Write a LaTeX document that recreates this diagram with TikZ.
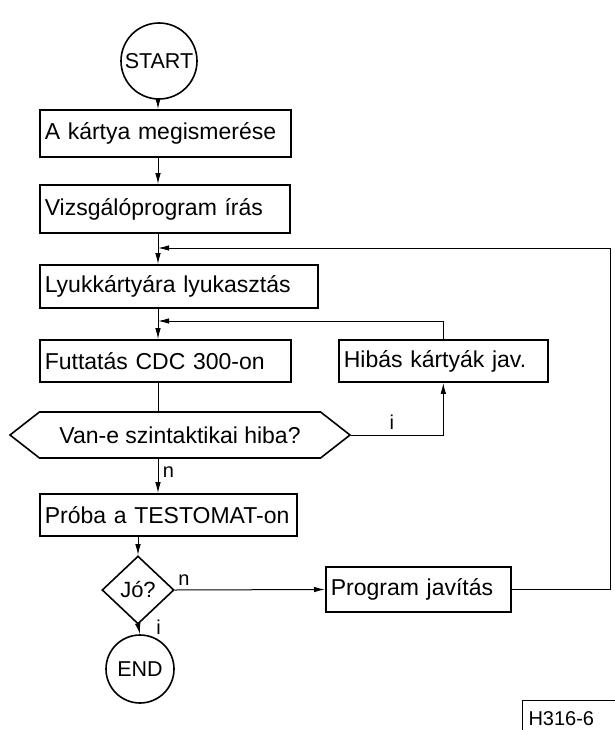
\documentclass[tikz,border=0pt]{standalone}
\usepackage{fontspec}
\setmainfont{Liberation Sans}
\usetikzlibrary{positioning, shapes.geometric, shapes.symbols, arrows.meta}

\tikzset{
	stepbox/.style={draw, line width=1.6pt, rectangle, anchor=west, inner xsep=5pt, inner ysep=0pt, align=left, font=\fontsize{23}{26}\selectfont},
	terminal/.style={draw, line width=1.6pt, circle, inner sep=0pt, font=\fontsize{21.5}{24}\selectfont},
	decision/.style={draw, line width=1.6pt, inner sep=0pt, font=\fontsize{23}{26}\selectfont},
	flow/.style={line width=1pt, -{Latex[length=11pt,width=5.5pt]}},
	plain/.style={line width=1pt},
	answer/.style={font=\fontsize{20}{22}\selectfont}
}

\begin{document}
\begin{tikzpicture}[x=1pt, y=-1pt]
			\useasboundingbox (0, 0) rectangle (615, 730);
			% boxes of the main chain
			\node[terminal, minimum size=76pt] (start) at (159, 61) {START};
			\node[stepbox, minimum height=47pt, text width=241pt] (kartya) at (39, 133.5) {A kártya megismerése};
			\node[stepbox, minimum height=48pt, text width=240pt] (iras) at (39, 209) {Vizsgálóprogram írás};
			\node[stepbox, minimum height=43pt, text width=268pt] (lyuk) at (39, 286.5) {Lyukkártyára lyukasztás};
			\node[stepbox, minimum height=42pt, text width=241pt] (futtat) at (39, 361) {Futtatás CDC 300-on};
			\node[stepbox, minimum height=42pt, text width=199pt] (hibas) at (338, 361) {Hibás kártyák jav.};
			\node[decision, signal, signal to=west and east, signal pointer angle=76, minimum width=340pt, minimum height=46pt] (szint) at (180, 435) {Van-e szintaktikai hiba?};
			\node[stepbox, minimum height=42pt, text width=247pt] (proba) at (39, 515) {Próba a TESTOMAT-on};
			\node[decision, diamond, minimum width=72pt, minimum height=68pt, font=\fontsize{22}{24}\selectfont] (jo) at (138, 590) {Jó?};
			\node[terminal, minimum size=68pt] (vege) at (140, 669) {END};
			\node[stepbox, minimum height=45pt, text width=175pt] (javit) at (325, 589.5) {Program javítás};
			\node[draw, line width=1pt, inner xsep=6pt, anchor=north west, minimum width=100pt, minimum height=36pt, align=left, text width=88pt, font=\fontsize{20}{22}\selectfont] (jel) at (522, 700) {H316-6};

			% junctions on the main line
			\coordinate (vissza) at (158, 248);
			\coordinate (ujra) at (158, 321);
			\coordinate (jobb) at (610, 248);

			% connectors
			\draw[flow] (start.south -| vissza) -- (kartya.north -| vissza);
			\draw[flow] (kartya.south -| vissza) -- (iras.north -| vissza);
			\draw[flow] (iras.south -| vissza) -- (lyuk.north -| vissza);
			\draw[flow] (lyuk.south -| ujra) -- (futtat.north -| ujra);
			\draw[plain] (futtat.south -| ujra) -- (szint.north -| ujra);
			\draw[flow] (szint.south -| ujra) -- node[answer, right=1pt, pos=0.4]{n} (proba.north -| ujra);
			\draw[flow] (szint.east) -| node[answer, above=2pt, pos=0.22]{i} (hibas.south);
			\draw[flow] (hibas.north) |- (ujra);
			\draw[flow] (proba.south -| jo) -- (jo.north);
			\draw[flow] (jo.south) -- node[answer, right=14pt, pos=0.3]{i} (vege.north);
			\draw[flow] (jo.east) -- node[answer, above=1pt, pos=0.06]{n} (javit.west);
			\draw[flow] (javit.east) -| (jobb) -- (vissza);
		\end{tikzpicture}
\end{document}
